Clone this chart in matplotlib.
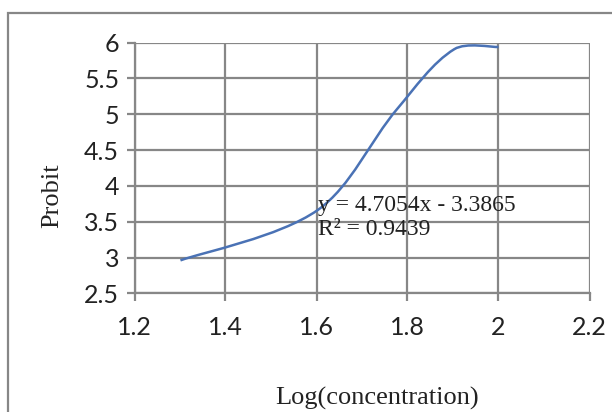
import numpy as np
import matplotlib
matplotlib.use("Agg")
import matplotlib.pyplot as plt
from matplotlib.path import Path
from matplotlib.patches import PathPatch, Rectangle

# data (log10 of 20, 40, 60, 80, 100)
log_conc = [1.301, 1.602, 1.778, 1.903, 2.0]
probit = [2.96, 3.66, 5.08, 5.91, 5.94]

x_ticks = [1.2, 1.4, 1.6, 1.8, 2, 2.2]
x_tick_labels = ["1.2", "1.4", "1.6", "1.8", "2", "2.2"]
y_ticks = [2.5, 3, 3.5, 4, 4.5, 5, 5.5, 6]
y_tick_labels = ["2.5", "3", "3.5", "4", "4.5", "5", "5.5", "6"]

eq_text = "y = 4.7054x - 3.3865\nR² = 0.9439"

grid_col = "#878787"
line_col = "#4a72b5"
text_col = "#222222"

fig = plt.figure(figsize=(6.12, 4.12), dpi=100)
ax = fig.add_axes([134.5 / 612, 1 - 293.3 / 412, 455 / 612, 250.6 / 412])
ax.set_xlim(1.2, 2.2)
ax.set_ylim(2.5, 6)

# outer chart frame (cut off on right and bottom in the original)
fig.patches.append(Rectangle((8 / 612, -0.05), 1.1, 1 - 13 / 412 + 0.05,
                             transform=fig.transFigure, fill=False,
                             edgecolor=grid_col, linewidth=1.6))

# smoothed line like Excel: Bezier segments, tangents weighted by
# segment length measured on screen
pts = np.column_stack([log_conc, probit])
scr = ax.transData.transform(pts)
n = len(pts)
verts = [pts[0]]
codes = [Path.MOVETO]
for i in range(n - 1):
    a, b = max(i - 1, 0), min(i + 2, n - 1)
    seg = np.linalg.norm(scr[i + 1] - scr[i])
    prev = np.linalg.norm(scr[i] - scr[a])
    nxt = np.linalg.norm(scr[b] - scr[i + 1])
    w1 = seg / (seg + prev) / 3 if prev > 0 else 1 / 6
    w2 = seg / (seg + nxt) / 3 if nxt > 0 else 1 / 6
    c1 = pts[i] + (pts[i + 1] - pts[a]) * w1
    c2 = pts[i + 1] - (pts[b] - pts[i]) * w2
    verts += [c1, c2, pts[i + 1]]
    codes += [Path.CURVE4] * 3
ax.add_patch(PathPatch(Path(verts, codes), facecolor="none",
                       edgecolor=line_col, linewidth=1.8, zorder=3))

ax.set_xticks(x_ticks)
ax.set_xticklabels(x_tick_labels)
ax.set_yticks(y_ticks)
ax.set_yticklabels(y_tick_labels)

ax.grid(True, color=grid_col, linewidth=1.6)
ax.set_axisbelow(True)
for side in ["top", "right"]:
    ax.spines[side].set_visible(False)
for side in ["left", "bottom"]:
    ax.spines[side].set_color(grid_col)
    ax.spines[side].set_linewidth(1.6)

ax.tick_params(axis="both", direction="out", length=6, width=1.6,
               color=grid_col, labelsize=18, labelcolor=text_col)
ax.tick_params(axis="x", pad=10)
ax.tick_params(axis="y", pad=5)
for lab in ax.get_xticklabels() + ax.get_yticklabels():
    lab.set_fontfamily("Lato")

fig.text(52 / 612, 1 - 196 / 412, "Probit", rotation=90,
         fontfamily="Liberation Serif", fontsize=19, color=text_col,
         ha="center", va="center")
fig.text(377 / 612, 1 - 398 / 412, "Log(concentration)",
         fontfamily="Liberation Serif", fontsize=19, color=text_col,
         ha="center", va="center")

ax.text(1.603, 3.56, eq_text, fontfamily="Liberation Serif", fontsize=17,
        color=text_col, ha="left", va="center", linespacing=1.15)

fig.savefig("out.png", dpi=100)
